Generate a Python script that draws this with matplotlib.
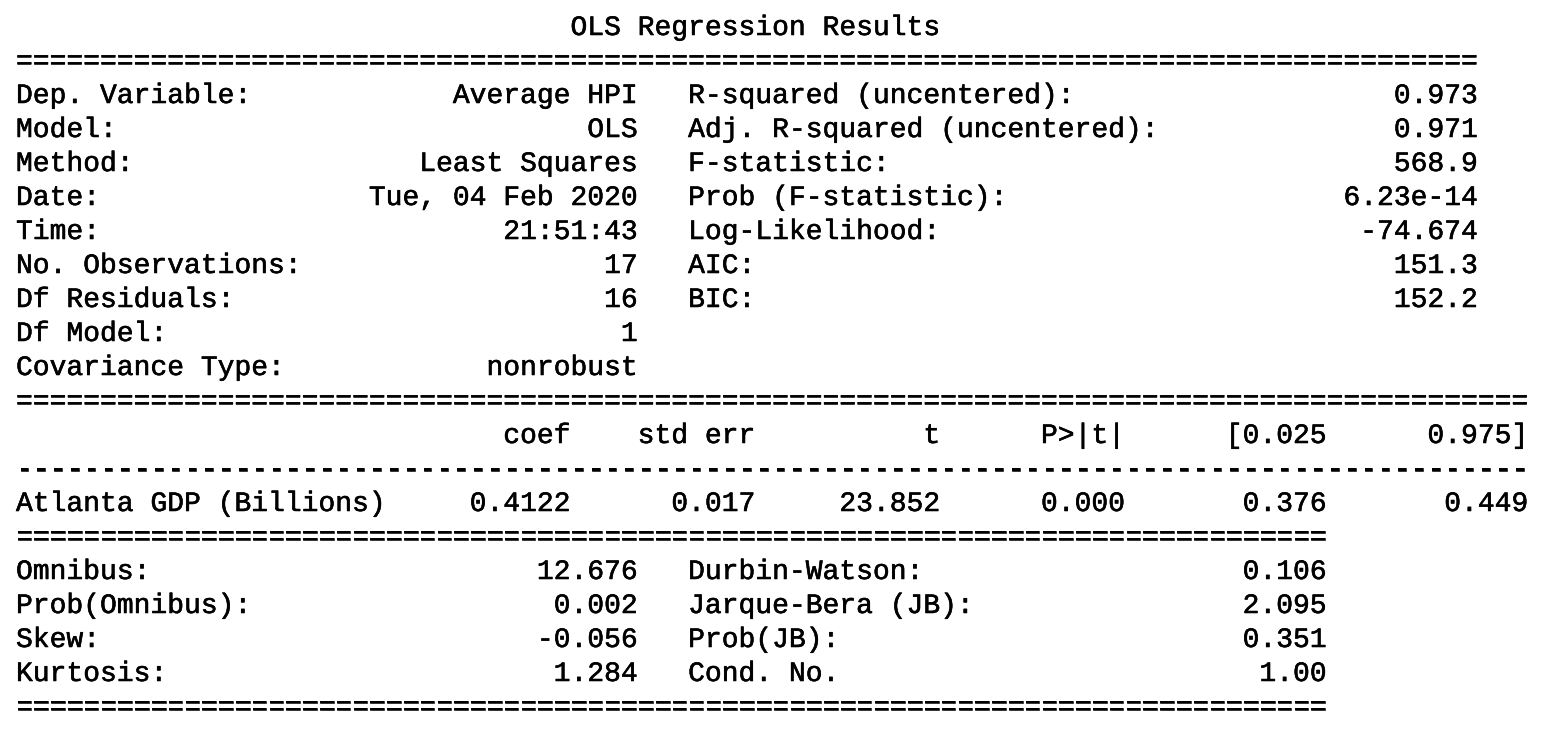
import matplotlib
matplotlib.use("Agg")
import matplotlib.pyplot as plt
import matplotlib.patheffects as pe

plt.rcParams["text.hinting"] = "no_hinting"

# summary table values
title = "OLS Regression Results"

top_left_labels = ["Dep. Variable:", "Model:", "Method:", "Date:", "Time:",
                   "No. Observations:", "Df Residuals:", "Df Model:", "Covariance Type:"]
top_left_values = ["Average HPI", "OLS", "Least Squares", "Tue, 04 Feb 2020", "21:51:43",
                   "17", "16", "1", "nonrobust"]
top_right_labels = ["R-squared (uncentered):", "Adj. R-squared (uncentered):", "F-statistic:",
                    "Prob (F-statistic):", "Log-Likelihood:", "AIC:", "BIC:"]
top_right_values = ["0.973", "0.971", "568.9", "6.23e-14", "-74.674", "151.3", "152.2"]

param_headers = ["coef", "std err", "t", "P>|t|", "[0.025", "0.975]"]
param_names = ["Atlanta GDP (Billions)"]
param_values = [["0.4122", "0.017", "23.852", "0.000", "0.376", "0.449"]]

diag_left_labels = ["Omnibus:", "Prob(Omnibus):", "Skew:", "Kurtosis:"]
diag_left_values = ["12.676", "0.002", "-0.056", "1.284"]
diag_right_labels = ["Durbin-Watson:", "Jarque-Bera (JB):", "Prob(JB):", "Cond. No."]
diag_right_values = ["0.106", "2.095", "0.351", "1.00"]

W, H = 1558, 738
X0 = 16          # left edge of the text block (px)
CHAR_W = 16.8    # monospace cell width (px)
LINE_H = 34      # line spacing (px)
BASE0 = 35       # baseline of first line (px)

LEFT_W = 37
GAP = 3
TOP_W = 87
PARAM_W = 90
DIAG_W = 78
param_ends = [33, 44, 55, 66, 78, 90]


def half(label, value, width):
    return label + value.rjust(width - len(label))


lines = []
lines.append(" " * ((TOP_W - len(title)) // 2 + 1) + title)
lines.append("=" * TOP_W)
for i, (lab, val) in enumerate(zip(top_left_labels, top_left_values)):
    row = half(lab, val, LEFT_W)
    if i < len(top_right_labels):
        row += " " * GAP + half(top_right_labels[i], top_right_values[i], TOP_W - LEFT_W - GAP)
    lines.append(row)
lines.append("=" * PARAM_W)


def param_row(name, cells):
    row = name
    for cell, end in zip(cells, param_ends):
        row += cell.rjust(end - len(row))
    return row


lines.append(param_row("", param_headers))
lines.append("-" * PARAM_W)
for name, vals in zip(param_names, param_values):
    lines.append(param_row(name, vals))
lines.append("=" * DIAG_W)
for i in range(len(diag_left_labels)):
    row = half(diag_left_labels[i], diag_left_values[i], LEFT_W)
    row += " " * GAP + half(diag_right_labels[i], diag_right_values[i], DIAG_W - LEFT_W - GAP)
    lines.append(row)
lines.append("=" * DIAG_W)

fig = plt.figure(figsize=(W / 100, H / 100), dpi=100)
fig.patch.set_facecolor("white")
fontsize = CHAR_W / 0.6 * 72 / 100

# slight stroke so the thin mono face reads closer to the terminal font weight
bold = [pe.withStroke(linewidth=0.4, foreground="black")]

for i, line in enumerate(lines):
    y = BASE0 + i * LINE_H
    fig.text(X0 / W, 1 - y / H, line, family="Liberation Mono", fontsize=fontsize,
             color="black", ha="left", va="baseline", path_effects=bold)

fig.savefig("out.png", dpi=100, facecolor="white")
